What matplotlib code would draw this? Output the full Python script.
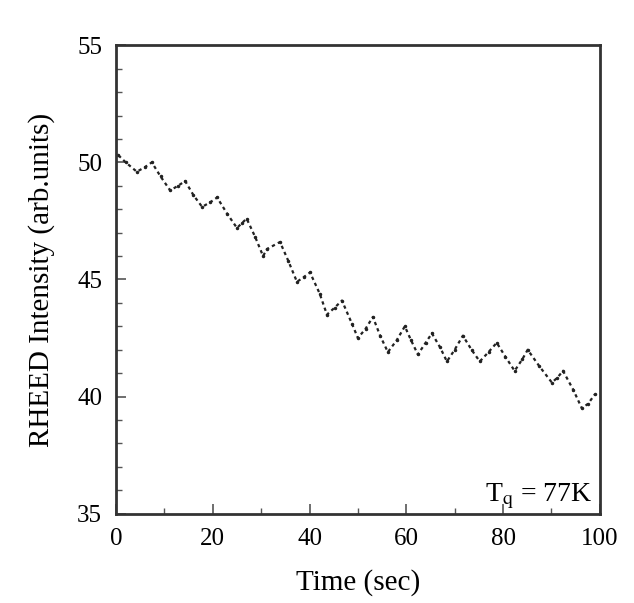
import matplotlib.pyplot as plt
from matplotlib.ticker import MultipleLocator

# values (sawtooth RHEED oscillation)
time_sec = [0.5, 2.0, 4.3, 6.0, 7.4, 9.2, 11.2, 12.8, 14.3, 16.0, 17.8, 19.5, 20.9,
            23.0, 25.0, 26.0, 27.0, 28.8, 30.4, 31.2, 33.9, 35.6, 37.4, 38.8, 40.1,
            42.1, 43.6, 45.2, 46.7, 48.8, 50.0, 51.6, 53.1, 54.6, 56.2, 58.0, 59.7,
            61.0, 62.4, 64.0, 65.3, 67.0, 68.4, 70.0, 71.7, 73.5, 75.2, 77.0, 78.7,
            80.5, 82.4, 84.0, 85.1, 87.5, 90.1, 91.2, 92.4, 94.5, 96.3, 97.6, 99.0]
intensity = [50.3, 50.0, 49.6, 49.8, 50.0, 49.4, 48.8, 49.0, 49.2, 48.6, 48.1, 48.3, 48.5,
             47.8, 47.2, 47.4, 47.6, 46.8, 46.0, 46.3, 46.6, 45.8, 44.9, 45.1, 45.3,
             44.4, 43.5, 43.8, 44.1, 43.1, 42.5, 42.9, 43.4, 42.6, 41.9, 42.4, 43.0,
             42.4, 41.8, 42.3, 42.7, 42.1, 41.5, 42.0, 42.6, 42.0, 41.5, 41.9, 42.3,
             41.7, 41.1, 41.6, 42.0, 41.3, 40.6, 40.8, 41.1, 40.3, 39.5, 39.7, 40.1]

plt.rcParams['font.family'] = ['Liberation Serif', 'DejaVu Serif']
plt.rcParams['mathtext.fontset'] = 'stix'

fig = plt.figure(figsize=(6.34, 6.03), dpi=100)
ax = fig.add_axes([0.183, 0.148, 0.763, 0.777])

ax.plot(time_sec, intensity, color='#222222', linestyle=(0, (1.5, 1.5)), linewidth=1.6,
        marker='.', markersize=3)

ax.set_xlim(0, 100)
ax.set_ylim(35, 55)
ax.xaxis.set_major_locator(MultipleLocator(20))
ax.xaxis.set_minor_locator(MultipleLocator(10))
ax.yaxis.set_major_locator(MultipleLocator(5))
ax.yaxis.set_minor_locator(MultipleLocator(1))
ax.tick_params(which='both', direction='in', labelsize=18, pad=10)
ax.tick_params(which='major', length=7, width=1.2, color='#555555')
ax.tick_params(which='minor', length=4, width=1, color='#555555')
for s in ax.spines.values():
    s.set_linewidth(2)
    s.set_color('#333333')

ax.set_xlabel('Time (sec)', fontsize=21, labelpad=14)
ax.set_ylabel('RHEED Intensity (arb.units)', fontsize=21, labelpad=16)

ax.text(98.5, 35.75, r'T$_\mathrm{q}$ = 77K', fontsize=20, ha='right', va='center')

fig.savefig('out.png', dpi=100)
